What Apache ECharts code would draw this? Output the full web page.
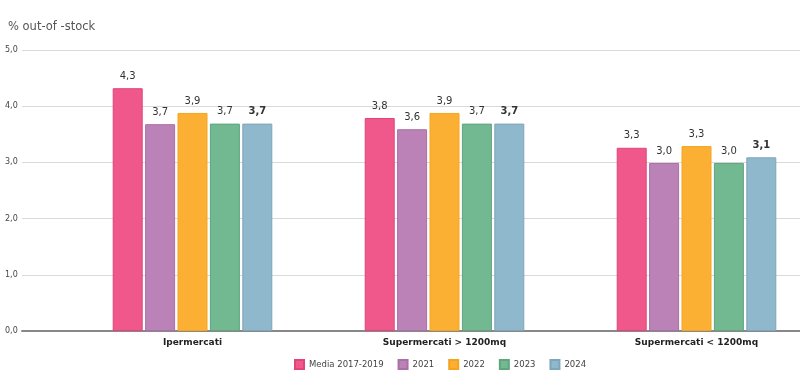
<!DOCTYPE html>
<html><head><meta charset="utf-8">
<script src="https://cdn.jsdelivr.net/npm/echarts@6/dist/echarts.min.js"></script>
<style>html,body{margin:0;padding:0;background:#fff}#c{width:800px;height:389px}</style>
</head><body><div id="c"></div>
<script>
const categories = ['Ipermercati', 'Supermercati > 1200mq', 'Supermercati < 1200mq'];
const seriesNames = ['Media 2017-2019', '2021', '2022', '2023', '2024'];
const media = [4.32, 3.79, 3.26];
const y2021 = [3.68, 3.59, 2.99];
const y2022 = [3.88, 3.88, 3.29];
const y2023 = [3.69, 3.69, 2.99];
const y2024 = [3.69, 3.69, 3.09];
const yTicks = [0, 1, 2, 3, 4, 5];
const colors = ['#f0578a', '#bb82b8', '#fbb034', '#72b891', '#8fb8cc'];
const borders = ['#e0457a', '#a970a6', '#f5a420', '#5fa67f', '#7ea6ba'];
const values = [media, y2021, y2022, y2023, y2024];

const fmt = v => v.toFixed(1).replace('.', ',');
const catIdx = categories.map((c, i) => i);
const chart = echarts.init(document.getElementById('c'));
chart.setOption({
  animation: false,
  title: { text: '% out-of -stock', left: 3, top: 16, textStyle: { fontSize: 11.5, fontWeight: 'normal', color: '#555', fontFamily: 'DejaVu Sans' } },
  legend: {
    data: seriesNames, bottom: 14, left: 289, itemWidth: 9, itemHeight: 9, itemGap: 14,
    icon: 'rect',
    textStyle: { fontSize: 8.5, color: '#444', fontFamily: 'DejaVu Sans' }
  },
  grid: { left: 22, right: 0, top: 50, bottom: 58 },
  xAxis: {
    type: 'value', min: -0.6766, max: 2.4107,
    splitLine: { show: false }, axisTick: { show: false },
    axisLine: { show: true, onZero: false, lineStyle: { color: '#888', width: 2 } },
    axisLabel: { customValues: catIdx, formatter: v => categories[Math.round(v)] || '', margin: 7, fontSize: 9, fontWeight: 'bold', color: '#222', fontFamily: 'DejaVu Sans' }
  },
  yAxis: {
    type: 'value', min: 0, max: 5, interval: 1, axisLine: { show: false }, axisTick: { show: false },
    splitLine: { lineStyle: { color: '#d9d9d9', width: 1 } },
    axisLabel: { formatter: v => fmt(v), fontSize: 8, color: '#444', align: 'left', margin: 17, fontFamily: 'DejaVu Sans' }
  },
  series: seriesNames.map((n, i) => ({
    name: n, type: 'bar', data: values[i].map((v, k) => [catIdx[k], v]),
    barWidth: 30, barGap: '8%',
    itemStyle: { color: colors[i], borderColor: borders[i], borderWidth: 1 },
    label: { show: true, position: 'top', distance: 7, formatter: p => fmt(p.value[1]), fontSize: 10,
      fontWeight: i === 4 ? 'bold' : 'normal', color: '#333', fontFamily: 'DejaVu Sans' }
  }))
});
</script></body></html>
